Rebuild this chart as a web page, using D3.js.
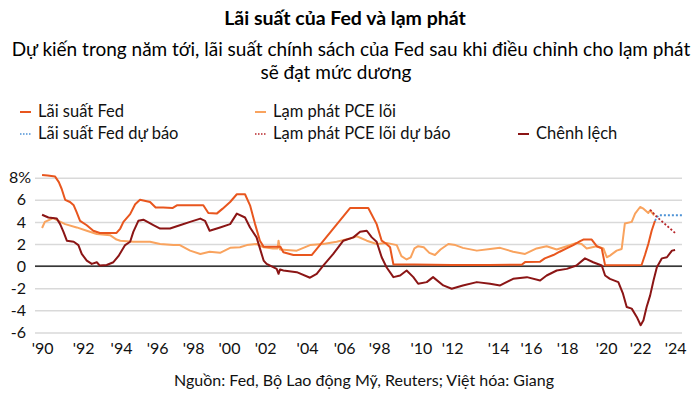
<!DOCTYPE html>
<html>
<head>
<meta charset="utf-8">
<script src="https://cdn.jsdelivr.net/npm/d3@7"></script>
<style>
  body { margin: 0; background: #fff; }
  svg { font-family: Lato, "Noto Sans", sans-serif; }
</style>
</head>
<body>
<div class="canvas"></div>
<script>
// Data (decimal years, percent)
const fedRate = [
    [1990.0, 8.25], [1990.3, 8.2], [1990.7, 8.1], [1990.9, 7.6], [1991.05, 7.0], [1991.24, 6.0],
    [1991.5, 5.8], [1991.7, 5.5], [1991.85, 4.9], [1992.04, 4.1], [1992.4, 3.7], [1992.75, 3.2],
    [1993.1, 3.0], [1993.6, 3.0], [1994.0, 3.0], [1994.2, 3.4], [1994.37, 4.0], [1994.73, 4.7],
    [1995.0, 5.6], [1995.26, 6.0], [1995.8, 5.8], [1996.1, 5.3], [1996.5, 5.3], [1997.0, 5.25],
    [1997.24, 5.5], [1998.0, 5.5], [1998.66, 5.5], [1998.93, 4.8], [1999.38, 4.75], [1999.7, 5.2],
    [2000.1, 5.8], [2000.46, 6.5], [2000.9, 6.5], [2001.17, 5.5], [2001.44, 3.8], [2001.7, 2.3],
    [2001.9, 1.75], [2002.8, 1.75], [2002.96, 1.25], [2003.5, 1.0], [2004.48, 1.0], [2006.54, 5.25],
    [2007.52, 5.25], [2007.97, 3.8], [2008.24, 2.3], [2008.5, 2.0], [2008.69, 1.7], [2008.87, 0.15],
    [2010.0, 0.15], [2012.0, 0.1], [2014.0, 0.1], [2015.76, 0.12], [2015.94, 0.36], [2016.75, 0.4],
    [2017.0, 0.7], [2017.46, 1.0], [2017.8, 1.3], [2018.17, 1.6], [2018.53, 1.9], [2018.9, 2.25],
    [2019.07, 2.4], [2019.52, 2.4], [2019.79, 1.8], [2020.06, 1.6], [2020.24, 0.07], [2022.2, 0.1],
    [2022.38, 1.0], [2022.56, 2.0], [2022.74, 3.2], [2022.92, 4.1]
];
const fedForecast = [[2022.92, 4.1], [2023.1, 4.6], [2024.38, 4.6]];

const corePce = [
    [1990.0, 3.45], [1990.15, 4.0], [1990.6, 4.35], [1990.88, 4.1], [1991.24, 3.8], [1991.86, 3.5],
    [1992.4, 3.2], [1992.94, 2.9], [1993.65, 2.8], [1994.0, 2.4], [1994.2, 2.3], [1994.9, 2.2],
    [1995.8, 2.2], [1996.34, 2.0], [1997.05, 1.9], [1997.4, 1.9], [1997.95, 1.4], [1998.5, 1.1],
    [1999.0, 1.3], [1999.56, 1.2], [2000.1, 1.65], [2000.63, 1.7], [2001.0, 1.9], [2001.52, 2.0],
    [2001.9, 1.7], [2002.4, 1.6], [2002.65, 1.6], [2002.7, 2.3], [2002.78, 1.5], [2003.68, 1.4],
    [2004.39, 1.9], [2005.1, 2.0], [2005.82, 2.2], [2006.54, 2.5], [2006.9, 2.7], [2007.44, 2.3],
    [2007.97, 2.0], [2008.5, 2.1], [2009.05, 1.9], [2009.3, 0.9], [2009.58, 0.6], [2009.8, 0.8],
    [2010.0, 1.6], [2010.2, 1.8], [2010.5, 1.7], [2010.8, 1.2], [2011.1, 1.0], [2011.4, 1.5],
    [2011.82, 2.0], [2012.2, 1.9], [2012.6, 1.65], [2013.35, 1.4], [2014.06, 1.55], [2014.6, 1.65],
    [2015.3, 1.3], [2015.94, 1.1], [2016.56, 1.6], [2017.1, 1.8], [2017.64, 1.5], [2018.18, 1.8],
    [2018.7, 2.1], [2018.98, 2.0], [2019.25, 1.6], [2019.79, 1.8], [2020.15, 1.6], [2020.33, 0.8],
    [2020.5, 0.95], [2020.86, 1.4], [2021.13, 1.55], [2021.3, 3.85], [2021.67, 4.0], [2021.85, 4.75],
    [2022.12, 5.35], [2022.3, 5.2], [2022.56, 4.8], [2022.66, 5.05], [2022.87, 4.6]
];
const pceForecast = [[2022.66, 5.1], [2023.02, 4.45], [2024.0, 3.0]];

const spread = [
    [1990.0, 4.65], [1990.34, 4.4], [1990.79, 4.3], [1990.97, 3.8], [1991.15, 3.1], [1991.33, 2.3],
    [1991.7, 2.2], [1991.95, 1.9], [1992.13, 1.1], [1992.4, 0.5], [1992.67, 0.2], [1992.94, 0.35],
    [1993.1, 0.05], [1993.47, 0.1], [1993.83, 0.35], [1994.1, 0.9], [1994.46, 1.9], [1994.73, 2.2],
    [1994.9, 3.1], [1995.17, 4.1], [1995.44, 4.2], [1995.98, 3.7], [1996.34, 3.4], [1996.87, 3.4],
    [1997.4, 3.7], [1997.95, 4.0], [1998.5, 4.3], [1998.75, 4.1], [1999.0, 3.2], [1999.56, 3.5],
    [2000.1, 3.8], [2000.46, 4.75], [2000.9, 4.4], [2001.17, 3.5], [2001.52, 2.6], [2001.9, 0.5],
    [2002.06, 0.2], [2002.6, -0.25], [2002.7, -0.7], [2002.78, -0.3], [2002.96, -0.4], [2003.68, -0.55],
    [2004.39, -1.05], [2004.75, -0.7], [2005.1, 0.05], [2005.64, 1.1], [2006.18, 2.3], [2006.72, 2.6],
    [2007.08, 3.1], [2007.44, 3.2], [2007.71, 2.6], [2007.97, 2.2], [2008.24, 0.8], [2008.5, -0.1],
    [2008.87, -1.0], [2009.23, -0.85], [2009.58, -0.4], [2009.94, -1.0], [2010.2, -1.6], [2010.66, -1.45],
    [2011.0, -1.0], [2011.55, -1.75], [2012.0, -2.05], [2012.6, -1.75], [2013.35, -1.45], [2014.06, -1.6],
    [2014.6, -1.75], [2015.3, -1.15], [2016.04, -1.0], [2016.75, -1.3], [2017.1, -0.85], [2017.64, -0.4],
    [2018.18, -0.25], [2018.7, 0.05], [2019.16, 0.7], [2019.6, 0.35], [2020.06, 0.05], [2020.24, -0.85],
    [2020.5, -1.15], [2020.95, -1.45], [2021.2, -2.5], [2021.4, -3.7], [2021.67, -3.85], [2021.94, -4.6],
    [2022.15, -5.35], [2022.3, -4.9], [2022.47, -3.7], [2022.66, -2.65], [2022.84, -1.3], [2023.02, -0.1],
    [2023.29, 0.7], [2023.56, 0.8], [2023.83, 1.4], [2024.0, 1.45]
];

// x tick labels (as printed on the source, incl. the '98 typo) and where they sit
const xTickLabels = ["'90", "'92", "'94", "'96", "'98", "'00", "'02", "'04", "'06", "'98",
    "'10", "'12", "'14", "'16", "'18", "'20", "'22", "'24"];
const xTickYears = [1990, 1992.2, 1994.24, 1996.18, 1998.11, 2000.04, 2001.98, 2004.23, 2006.22,
    2008.1, 2010.35, 2012.02, 2014.49, 2016.26, 2018.2, 2020.29, 2022.12, 2024.0];
const yTicks = [8, 6, 4, 2, 0, -2, -4, -6];

const legendItems = [
    { label: 'Lãi suất Fed', color: '#E8561E', dash: null },
    { label: 'Lạm phát PCE lõi', color: '#F9A35E', dash: null },
    { label: 'Lãi suất Fed dự báo', color: '#4E93D6', dash: '1.5,1.5' },
    { label: 'Lạm phát PCE lõi dự báo', color: '#B8262A', dash: '1.5,1.5' },
    { label: 'Chênh lệch', color: '#8B1515', dash: null }
];

//Canvas
const width = 700, height = 396;
const plotL = 35, plotR = 682, plotT = 177.7, plotB = 332.4;

const svg = d3.select('.canvas')
    .append('svg')
    .attr('width', width)
    .attr('height', height);

svg.append('rect').attr('width', width).attr('height', height).attr('fill', '#fff');

//Scales
const x = d3.scaleLinear().domain([1989.62, 2024.37]).range([plotL, plotR]);
const y = d3.scaleLinear().domain([-6, 8]).range([plotB, plotT]);

//Titles
svg.append('text')
    .attr('x', 345).attr('y', 25)
    .attr('text-anchor', 'middle')
    .attr('font-size', 19.5).attr('font-weight', 'bold')
    .text('Lãi suất của Fed và lạm phát');

svg.append('text')
    .attr('x', 351).attr('y', 56)
    .attr('text-anchor', 'middle')
    .attr('font-size', 19)
    .text('Dự kiến trong năm tới, lãi suất chính sách của Fed sau khi điều chỉnh cho lạm phát');
svg.append('text')
    .attr('x', 336).attr('y', 79)
    .attr('text-anchor', 'middle')
    .attr('font-size', 19)
    .text('sẽ đạt mức dương');

//Legend
const legendPos = [[20, 117], [255, 117], [20, 139], [255, 139], [518, 139]];
const legend = svg.append('g').attr('font-size', 16.5);
legendItems.forEach((d, i) => {
    const [lx, ly] = legendPos[i];
    legend.append('line')
        .attr('x1', lx).attr('x2', lx + 11)
        .attr('y1', ly - 5).attr('y2', ly - 5)
        .attr('stroke', d.color)
        .attr('stroke-width', d.dash ? 1.5 : 2)
        .attr('stroke-dasharray', d.dash);
    legend.append('text')
        .attr('x', lx + 18).attr('y', ly)
        .attr('fill', '#111')
        .text(d.label);
});

//Grid + Y axis
svg.append('g')
    .attr('transform', `translate(${plotL},0)`)
    .call(d3.axisLeft(y).tickValues(yTicks).tickSize(-(plotR - plotL)).tickFormat(''))
    .call(g => g.select('.domain').remove())
    .call(g => g.selectAll('line').attr('stroke', '#d9d9d9').attr('stroke-width', 1.5));

svg.append('g')
    .attr('transform', `translate(${plotL},0)`)
    .call(d3.axisLeft(y).tickValues(yTicks).tickSize(0).tickPadding(9)
        .tickFormat(d => d === 8 ? '8%' : String(d)))
    .call(g => g.select('.domain').remove())
    .call(g => g.selectAll('text')
        .attr('font-size', 16)
        .attr('font-family', 'Lato, "Noto Sans", sans-serif')
        .attr('fill', '#111')
        .attr('dx', d => d === 8 ? 5 : 0));

// zero line
svg.append('line')
    .attr('x1', plotL).attr('x2', plotR)
    .attr('y1', y(0)).attr('y2', y(0))
    .attr('stroke', '#000').attr('stroke-width', 1.2);

//X axis
svg.append('g')
    .attr('transform', `translate(0,${plotB})`)
    .call(d3.axisBottom(x).tickValues(xTickYears).tickSize(0).tickPadding(10)
        .tickFormat((d, i) => xTickLabels[i]))
    .call(g => g.select('.domain').remove())
    .call(g => g.selectAll('text')
        .attr('font-size', 16)
        .attr('font-family', 'Lato, "Noto Sans", sans-serif')
        .attr('fill', '#111'));

//Lines
const line = d3.line().x(d => x(d[0])).y(d => y(d[1]));

const series = [
    { data: corePce, color: '#F9A35E', w: 2, dash: null },
    { data: fedRate, color: '#E8561E', w: 2, dash: null },
    { data: spread, color: '#8B1515', w: 2, dash: null },
    { data: fedForecast, color: '#4E93D6', w: 1.8, dash: '2,2' },
    { data: pceForecast, color: '#B8262A', w: 1.8, dash: '2,2' }
];

svg.append('g')
    .selectAll('path')
    .data(series)
    .enter()
    .append('path')
    .attr('d', d => line(d.data))
    .attr('fill', 'none')
    .attr('stroke', d => d.color)
    .attr('stroke-width', d => d.w)
    .attr('stroke-dasharray', d => d.dash)
    .attr('stroke-linejoin', 'round');

//Source
svg.append('text')
    .attr('x', 364).attr('y', 386)
    .attr('text-anchor', 'middle')
    .attr('font-size', 16)
    .attr('fill', '#111')
    .text('Nguồn: Fed, Bộ Lao động Mỹ, Reuters; Việt hóa: Giang');
</script>
</body>
</html>
